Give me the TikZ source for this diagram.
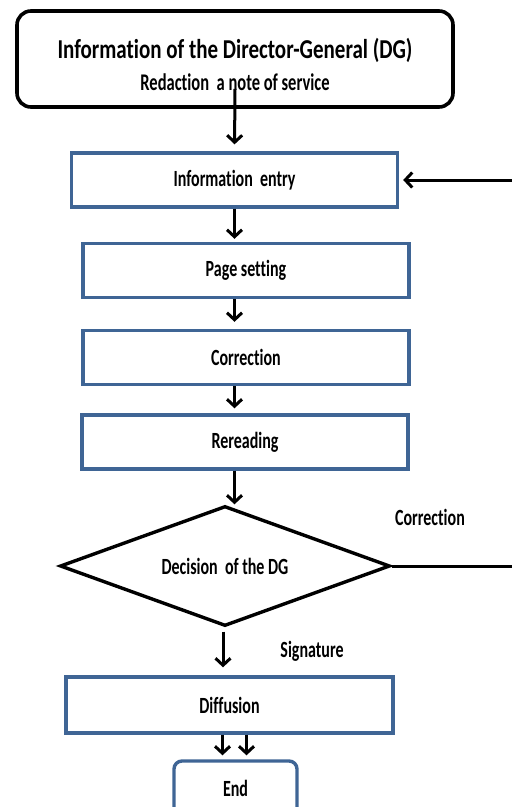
\documentclass[tikz,border=0pt]{standalone}
\usepackage{fontspec}
\setmainfont[Ligatures=NoCommon]{Carlito}
\usepackage{graphicx}
\usepackage{tikz}
\usetikzlibrary{shapes.geometric, arrows.meta, calc}
\definecolor{boxblue}{HTML}{3F6595}
\newcommand{\tallt}[2][1.45]{\scalebox{1}[#1]{#2}}

\begin{document}
\begin{tikzpicture}[x=1pt, y=-1pt,
        >={Straight Barb[length=7pt,width=15pt]},
        bluebox/.style={draw=boxblue, line width=3.4pt, rectangle, minimum width=326pt, minimum height=54pt, font=\fontsize{16}{18}\selectfont\bfseries},
        flow/.style={->, line width=3pt}
    ]
        \clip (0,0) rectangle (512,807);

        % Director-General
        \node[draw, line width=3.6pt, rectangle, rounded corners=14pt, minimum width=436pt, minimum height=96pt] (title) at (235, 59) {};
        \node[font=\fontsize{21}{24}\selectfont\bfseries] (titletxt) at (235, 50) {\tallt[1.3]{Information of the Director-General (DG)}};
        \node[font=\fontsize{16.5}{18}\selectfont\bfseries] (subtxt) at (235, 82) {\tallt{Redaction\ \ a note of service}};

        % Processing steps
        \node[bluebox] (entry) at (234.5, 180) {\tallt{Information\ \ entry}};
        \node[bluebox] (page) at (246, 270.5) {\tallt{Page setting}};
        \node[bluebox] (correction) at (246, 357.5) {\tallt{Correction}};
        \node[bluebox] (rereading) at (245, 442) {\tallt{Rereading}};

        % Decision
        \node[draw, line width=3.4pt, diamond, aspect=2.75, inner sep=0pt, minimum width=330pt, minimum height=120pt, font=\fontsize{16}{18}\selectfont\bfseries] (decision) at (225, 566) {\tallt{Decision\ \ of the DG}};
        \node[font=\fontsize{16}{18}\selectfont\bfseries] (corrlbl) at (430, 517) {\tallt{Correction}};
        \node[font=\fontsize{16}{18}\selectfont\bfseries] (siglbl) at (312, 651) {\tallt{Signature}};

        % Output
        \node[bluebox, minimum width=327pt, minimum height=56pt] (diffusion) at (229.5, 705) {\tallt{Diffusion}};
        \node[bluebox, minimum width=123pt, rounded corners=8pt] (endbox) at (235.5, 788) {\tallt{End}};

        % Arrows
        \draw[flow, shorten >=7pt] ([yshift=20pt]title.south) -- (entry.north);
        \draw[flow, shorten >=3pt] (entry.south) -- (entry.south |- page.north);
        \draw[flow, shorten >=7pt] (page.south -| entry.south) -- (correction.north -| entry.south);
        \draw[flow, shorten >=5pt] (correction.south -| entry.south) -- (rereading.north -| entry.south);
        \draw[flow] (rereading.south -| entry.south) -- (entry.south |- decision.north);
        \draw[flow, shorten <=4pt, shorten >=8pt] ([xshift=-2pt]decision.south) -- ([xshift=-2pt]decision.south |- diffusion.north);
        \draw[flow, shorten >=4pt] ([xshift=-13pt]endbox.north |- diffusion.south) -- ([xshift=-13pt]endbox.north);
        \draw[flow, shorten >=4pt] ([xshift=11pt]endbox.north |- diffusion.south) -- ([xshift=11pt]endbox.north);

        % Loop back for correction
        \draw[flow, shorten >=4pt] (decision.east) -- ++(150,0) |- (entry.east);
    \end{tikzpicture}
\end{document}
